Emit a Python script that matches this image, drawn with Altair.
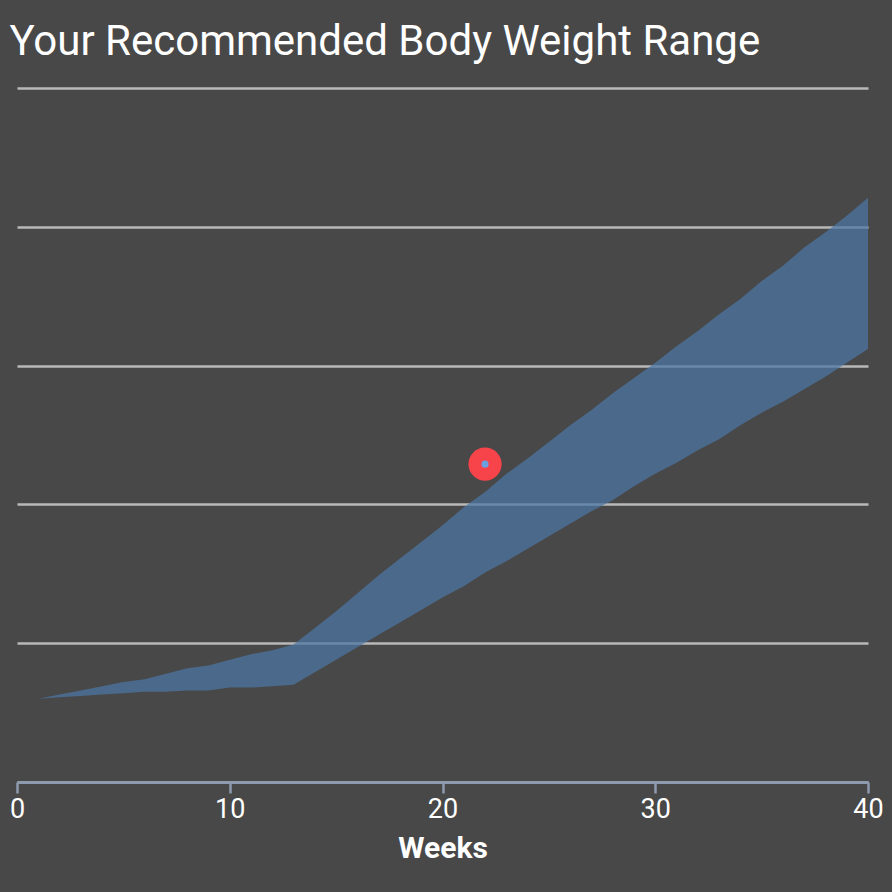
import altair as alt
import pandas as pd
import jinja2

weeks = list(range(1, 41))
upper = [6.0, 6.3, 6.6, 6.9, 7.2, 7.4, 7.8, 8.2, 8.4, 8.8,
         9.2, 9.5, 9.9, 11.1, 12.3, 13.6, 14.9, 16.1, 17.3, 18.5,
         19.8, 20.9, 22.2, 23.3, 24.5, 25.7, 26.8, 28.0, 29.1, 30.2,
         31.4, 32.5, 33.7, 34.8, 36.1, 37.2, 38.5, 39.6, 40.8, 42.1]
lower = [6.0, 6.1, 6.2, 6.3, 6.4, 6.5, 6.5, 6.6, 6.6, 6.8,
         6.8, 6.9, 7.0, 7.9, 8.8, 9.7, 10.6, 11.5, 12.4, 13.3,
         14.1, 15.1, 15.9, 16.8, 17.7, 18.6, 19.5, 20.3, 21.3, 22.2,
         23.0, 23.9, 24.7, 25.7, 26.6, 27.4, 28.3, 29.2, 30.2, 31.2]
current_week = [22]
current_weight = [22.9]

band = pd.DataFrame({"week": weeks, "low": lower, "high": upper})
me = pd.DataFrame({"week": current_week, "weight": current_weight})

x = alt.X("week:Q", title="Weeks",
          scale=alt.Scale(domain=[0, 40], nice=False),
          axis=alt.Axis(values=[0, 10, 20, 30, 40], grid=False,
                        domainColor="#8e9aae", domainWidth=3,
                        tickColor="#8e9aae", tickWidth=2.5, tickSize=11,
                        labelFontSize=27, labelColor="#ffffff", labelPadding=3,
                        labelFont="Roboto", labelFlush=False,
                        titleFontSize=30, titleFontWeight="bold", titleColor="#ffffff",
                        titleFont="Roboto", titlePadding=11))

y_axis = alt.Axis(values=[0, 10, 20, 30, 40, 50], labels=False, ticks=False,
                  domain=False, title=None, grid=True,
                  gridColor="#b8b8b8", gridWidth=2.5)

area = alt.Chart(band).mark_area(color="#4c76a4", opacity=0.72).encode(
    x=x,
    y=alt.Y("low:Q", scale=alt.Scale(domain=[0, 50], nice=False), axis=y_axis),
    y2="high:Q",
)

outer = alt.Chart(me).mark_circle(color="#f7444a", opacity=1, size=1100).encode(
    x="week:Q", y="weight:Q"
)
inner = alt.Chart(me).mark_circle(color="#6a9fe0", opacity=1, size=50).encode(
    x="week:Q", y="weight:Q"
)

chart = alt.layer(area, outer, inner).properties(
    width=851, height=694,
    autosize=alt.AutoSizeParams(type="none"),
    padding={"left": 9, "top": 80, "right": 16, "bottom": 90},
    background="#484848",
    title=alt.TitleParams("Your Recommended Body Weight Range", anchor="start",
                          fontSize=42, fontWeight="normal", color="#ffffff",
                          font="Roboto", offset=24),
).configure_view(stroke=None)

page = jinja2.Template("""<!DOCTYPE html>
<html>
<head>
  <meta charset="utf-8">
  <style>
    html, body { background: #484848; }
  </style>
  <script type="text/javascript" src="{{ base_url }}/vega@{{ vega_version }}"></script>
  <script type="text/javascript" src="{{ base_url }}/vega-lite@{{ vegalite_version }}"></script>
  <script type="text/javascript" src="{{ base_url }}/vega-embed@{{ vegaembed_version }}"></script>
</head>
<body>
<div id="{{ output_div }}"></div>
<script>
  (function(vegaEmbed) {
    var spec = {{ spec }};
    var embedOpt = {{ embed_options }};
    vegaEmbed("#{{ output_div }}", spec, embedOpt).catch(function(err) {
      document.getElementById("{{ output_div }}").innerHTML = String(err);
    });
  })(vegaEmbed);
</script>
</body>
</html>
""")

chart.save("out.html", embed_options={"renderer": "svg", "actions": False}, template=page)
